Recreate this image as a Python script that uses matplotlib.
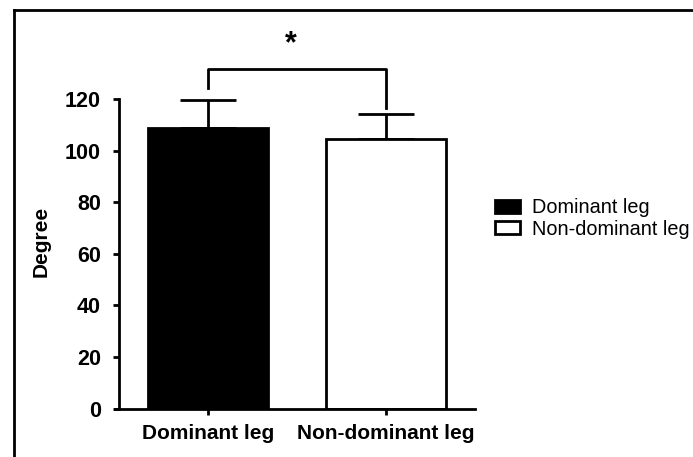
import numpy as np
import matplotlib.pyplot as plt
from matplotlib.lines import Line2D
from matplotlib.patches import Patch

plt.rcParams['font.family'] = ['Liberation Sans', 'DejaVu Sans']

groups = ['Dominant leg', 'Non-dominant leg']
means = [108.7, 104.5]
sd = [10.9, 9.6]
colors = ['black', 'white']
yticks = [0, 20, 40, 60, 80, 100, 120]

fig = plt.figure(figsize=(6.93, 4.57), dpi=100)
ax = fig.add_axes([0.1717, 0.1061, 0.5137, 0.6773])

x = np.arange(len(groups))
ax.bar(x, means, width=0.67, color=colors, edgecolor='black', linewidth=2, zorder=2)
ax.errorbar(x, means, yerr=[[0, 0], sd], fmt='none', ecolor='black',
            elinewidth=2, capsize=20, capthick=2, clip_on=False, zorder=1)

# significance bracket
top = 131.6
ax.plot([0, 0, 1, 1], [means[0] + sd[0] + 4.5, top, top, means[1] + sd[1] + 2.5],
        color='black', lw=2, clip_on=False)
ax.text(0.465, 138.0, '*', ha='center', va='baseline', fontsize=22, fontweight='bold')

ax.set_xlim(-0.5, 1.5)
ax.set_ylim(0, 120)
ax.set_yticks(yticks)
ax.set_xticks(x)
ax.set_xticklabels(groups, fontsize=15, fontweight='bold')
for lab in ax.get_yticklabels():
    lab.set_fontsize(15.5)
    lab.set_fontweight('bold')
ax.set_ylabel('Degree', fontsize=15, fontweight='bold')
ax.yaxis.set_label_coords(-0.191, 0.54)
ax.spines['top'].set_visible(False)
ax.spines['right'].set_visible(False)
ax.spines['left'].set_linewidth(2)
ax.spines['bottom'].set_linewidth(2)
ax.spines['bottom'].set_bounds(-0.52, 1.5)
ax.tick_params(width=2, length=4)
ax.tick_params(axis='y', pad=9)
ax.tick_params(axis='x', pad=7)

handles = [Patch(facecolor=c, edgecolor='black', linewidth=2) for c in colors]
fig.legend(handles, groups, loc='center left', bbox_to_anchor=(0.714, 0.522),
           frameon=False, fontsize=14.3, handlelength=1.25, handleheight=0.65,
           handletextpad=0.6, labelspacing=0.12, borderaxespad=0, borderpad=0)

# frame around the panel (top and left edges)
fig.add_artist(Line2D([14 / 693, 1], [1 - 10 / 457] * 2, color='black', lw=2))
fig.add_artist(Line2D([14 / 693] * 2, [0, 1 - 10 / 457], color='black', lw=2))

fig.savefig('out.png', dpi=100)
